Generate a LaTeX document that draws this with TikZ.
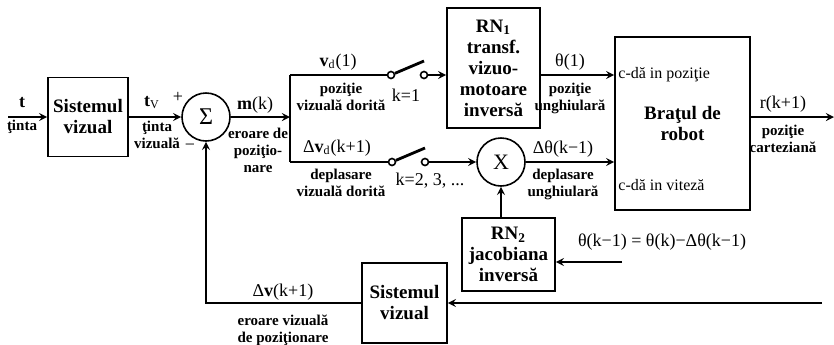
\documentclass[tikz,border=0pt]{standalone}
\usepackage{fontspec}
\setmainfont{Liberation Serif}
\usetikzlibrary{arrows}

\begin{document}
\begin{tikzpicture}[
    x=0.5pt, y=-0.5pt,
    box/.style={rectangle, draw, thick, align=center, inner sep=1pt, font=\fontsize{9.5}{10.5}\selectfont\bfseries},
    sumnode/.style={circle, draw, thick, minimum size=24pt, inner sep=0pt, font=\fontsize{12}{12}\selectfont},
    term/.style={circle, draw, thick, fill=white, minimum size=3.5pt, inner sep=0pt},
    arrow/.style={->, thick, >=stealth},
    wire/.style={thick},
    blade/.style={line width=1.4pt},
    sig/.style={inner sep=1pt, font=\fontsize{9}{10}\selectfont},
    note/.style={inner sep=0.5pt, align=center, font=\fontsize{7.5}{8.5}\selectfont\bfseries},
    cmd/.style={inner sep=0pt, anchor=west, font=\fontsize{8}{9}\selectfont}
]
\useasboundingbox (0,0) rectangle (834,344);

% blocks
\node[box, minimum width=40pt, minimum height=39.5pt] (vis1) at (88,117) {Sistemul\\vizual};
\node[sumnode] (sum) at (206,117) {Σ};
\node[box, minimum width=46.5pt, minimum height=60pt] (rn1) at (493.5,68) {RN\textsubscript{1}\\transf.\\vizuo-\\motoare\\inversă};
\node[box, minimum width=67.5pt, minimum height=86.5pt] (robot) at (682.5,123.5) {Braţul de\\robot};
\node[sumnode, font=\fontsize{11}{11}\selectfont] (mul) at (501,162) {X};
\node[box, minimum width=46.5pt, minimum height=36.5pt] (rn2) at (508.5,254.5) {RN\textsubscript{2}\\jacobiana\\inversă};
\node[box, minimum width=42.5pt, minimum height=40pt] (vis2) at (404.5,303) {Sistemul\\vizual};

\node[cmd] (cpos) at (618,75) {c-dă in poziţie};
\node[cmd] (cvel) at (618,185) {c-dă in viteză};

% switches
\node[term] (s1a) at (391,75) {};
\node[term] (s1b) at (424,75) {};
\coordinate (s1c) at (424,61);
\node[term] (s2a) at (392,162) {};
\node[term] (s2b) at (425,162) {};
\coordinate (s2c) at (425,148);

\coordinate (tin) at (8,117);
\coordinate (split) at (290,117);
\coordinate (top) at (290,75);
\coordinate (bot) at (290,162);
\coordinate (rout) at (834,117);
\coordinate (jin) at (622,262);
\coordinate (fbin) at (822,303);
\coordinate (fbc) at (206,303);

% connectors
\draw[arrow] (tin) -- (vis1);
\draw[arrow] (vis1) -- (sum);
\draw[arrow] (sum) -- (split);
\draw[wire] (top) -- (bot);
\draw[wire] (top) -- (s1a);
\draw[blade] (s1a) -- (s1c);
\draw[arrow] (s1b) -- (s1b -| rn1.west);
\draw[wire] (bot) -- (s2a);
\draw[blade] (s2a) -- (s2c);
\draw[arrow] (s2b) -- (mul);
\draw[arrow] (rn1.east |- s1b) -- (robot.west |- s1b);
\draw[arrow] (mul) -- (mul -| robot.west);
\draw[arrow] (rn2.north -| mul) -- (mul);
\draw[arrow] (robot.east |- rout) -- (rout);
\draw[arrow] (jin) -- (jin -| rn2.east);
\draw[arrow] (fbin) -- (vis2);
\draw[arrow] (vis2) -- (fbc) -- (sum);

% labels
\node[sig] (tlab) at (22,103) {\textbf{t}};
\node[note] (tnote) at (22,127) {ţinta};
\node[sig] (tvlab) at (152,103) {\textbf{t}\textsubscript{V}};
\node[note] (tvnote) at (157,135) {ţinta\\vizuală};
\node[sig] (plus) at (178,97) {+};
\node[sig] (minus) at (190,147) {−};
\node[sig] (mk) at (255,105) {\textbf{m}(k)};
\node[note] (mknote) at (258,150) {eroare de\\poziţio-\\nare};
\node[sig] (vd1) at (338,62) {\textbf{v}\textsubscript{d}(1)};
\node[note] (vd1note) at (341,97) {poziţie\\vizuală dorită};
\node[sig] (k1) at (406,95) {k=1};
\node[sig] (dvd) at (337,148) {Δ\textbf{v}\textsubscript{d}(k+1)};
\node[note] (dvdnote) at (341,183) {deplasare\\vizuală dorită};
\node[sig] (k2) at (430,181) {k=2, 3, ...};
\node[sig] (th1) at (570,62) {θ(1)};
\node[note] (th1note) at (570,98) {poziţie\\unghiulară};
\node[sig] (dth) at (563,149) {Δθ(k−1)};
\node[note] (dthnote) at (563,184) {deplasare\\unghiulară};
\node[sig] (threl) at (662,242) {θ(k−1) = θ(k)−Δθ(k−1)};
\node[sig] (rk) at (783,104) {r(k+1)};
\node[note] (rknote) at (783,139) {poziţie\\carteziană};
\node[sig] (dv) at (283,292) {Δ\textbf{v}(k+1)};
\node[note] (dvnote) at (283,330) {eroare vizuală\\de poziţionare};

\end{tikzpicture}
\end{document}
